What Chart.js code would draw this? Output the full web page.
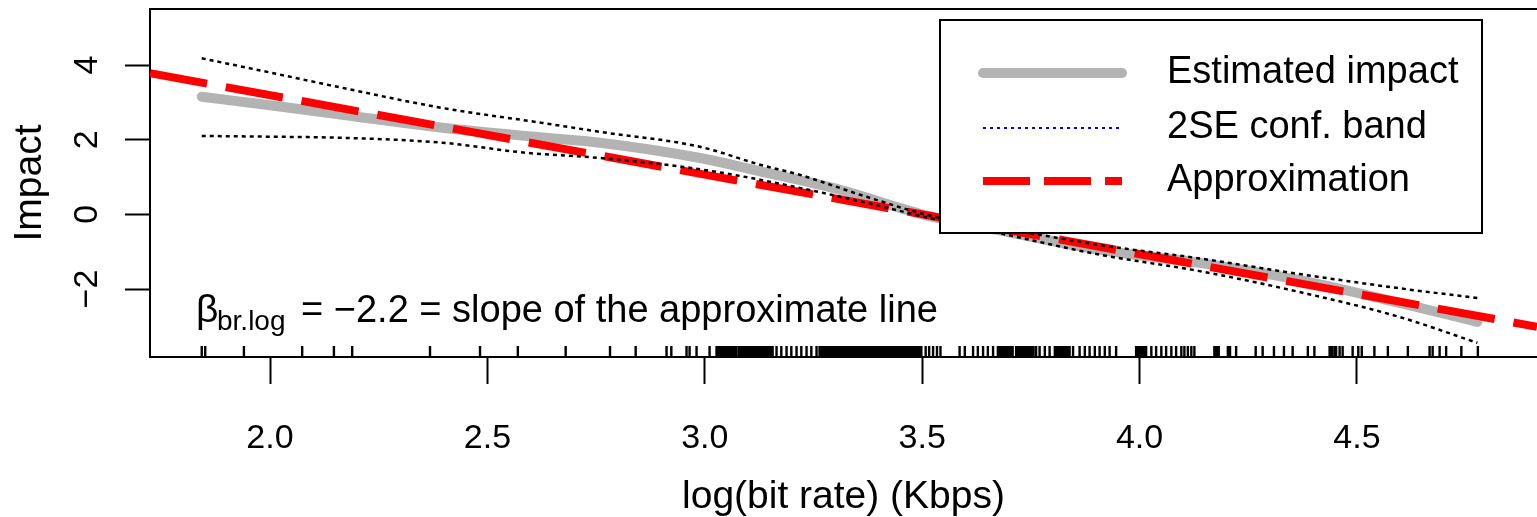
<!DOCTYPE html>
<html>
<head>
<meta charset="utf-8">
<script src="https://cdn.jsdelivr.net/npm/chart.js@4.4.1/dist/chart.umd.min.js"></script>
<style>
  html, body { margin: 0; padding: 0; background: #fff; overflow: hidden; }
  canvas { display: block; }
</style>
</head>
<body>
<canvas id="impactChart" width="1537" height="517"></canvas>
<script>
// smooth estimate of the impact of log(bit rate)
const fitX = [1.843, 2.0, 2.166, 2.396, 2.626, 2.759, 2.989, 3.143, 3.294, 3.524, 3.7, 3.908, 4.138, 4.368, 4.598, 4.777]
const fitY = [3.15, 2.92, 2.67, 2.32, 2.06, 1.92, 1.51, 1.11, 0.71, -0.07, -0.48, -0.95, -1.30, -1.76, -2.37, -2.88]

// 2SE band, upper and lower
const upperX = [1.843, 2.0, 2.166, 2.396, 2.626, 2.759, 2.989, 3.127, 3.218, 3.372, 3.524, 3.7, 3.908, 4.138, 4.368, 4.598, 4.777]
const upperY = [4.18, 3.80, 3.39, 2.85, 2.45, 2.21, 1.81, 1.33, 1.06, 0.47, -0.05, -0.40, -0.82, -1.18, -1.60, -1.98, -2.24]
const lowerX = [1.843, 2.0, 2.166, 2.396, 2.588, 2.759, 2.951, 3.066, 3.218, 3.372, 3.524, 3.7, 3.908, 4.138, 4.368, 4.598, 4.777]
const lowerY = [2.10, 2.08, 2.05, 1.92, 1.65, 1.51, 1.27, 1.06, 0.71, 0.31, -0.12, -0.56, -1.08, -1.52, -2.08, -2.75, -3.44]

// straight approximation, slope about -2.2
const approxX = [1.724, 4.914]
const approxY = [3.78, -3.01]

// observed log(bit rate) values (rug)
const rugX = [
  1.843, 1.851, 1.940, 2.074, 2.147, 2.189, 2.368, 2.483, 2.570, 2.680, 2.782, 2.841, 2.912, 2.923,
  2.958, 2.965, 2.981, 3.011,
  3.027, 3.032, 3.037, 3.042, 3.047, 3.052, 3.057, 3.062, 3.067, 3.072, 3.078, 3.083, 3.088, 3.093,
  3.098, 3.103, 3.108, 3.113, 3.118, 3.123, 3.128, 3.133, 3.138, 3.143, 3.148, 3.153, 3.156,
  3.165, 3.176, 3.188, 3.199, 3.211, 3.222, 3.234, 3.245, 3.257,
  3.264, 3.269, 3.274, 3.279, 3.284, 3.289, 3.294, 3.299, 3.304, 3.309, 3.314, 3.319, 3.324, 3.329,
  3.334, 3.339, 3.344, 3.349, 3.354, 3.359, 3.364, 3.369, 3.374, 3.379, 3.384, 3.389, 3.394, 3.399,
  3.404, 3.409, 3.414, 3.419, 3.424, 3.429, 3.434, 3.439, 3.444, 3.449, 3.454, 3.459, 3.464, 3.469,
  3.474, 3.479, 3.484, 3.489, 3.494, 3.498,
  3.508, 3.516, 3.525, 3.534, 3.542, 3.586, 3.598, 3.617, 3.628, 3.640, 3.651, 3.663,
  3.674, 3.679, 3.684, 3.689, 3.694, 3.699, 3.704, 3.708, 3.716, 3.721, 3.726, 3.731, 3.736, 3.741,
  3.746, 3.751, 3.756, 3.762, 3.770, 3.782, 3.793, 3.805, 3.810, 3.815, 3.820, 3.825, 3.830, 3.835,
  3.839, 3.847, 3.862, 3.874, 3.885, 3.897, 3.908, 3.920, 3.931, 3.946,
  3.992, 3.997, 4.002, 4.007, 4.012, 4.015, 4.027, 4.038, 4.050, 4.061, 4.073, 4.084,
  4.096, 4.103, 4.111, 4.119, 4.126, 4.172, 4.175, 4.178, 4.182, 4.203, 4.208, 4.222, 4.267, 4.283,
  4.309, 4.332, 4.352, 4.387, 4.402, 4.437, 4.442, 4.448, 4.452, 4.460, 4.467, 4.490, 4.503, 4.511,
  4.540, 4.571, 4.617, 4.667, 4.674, 4.690, 4.705, 4.740, 4.778
]

const xTicks = [2.0, 2.5, 3.0, 3.5, 4.0, 4.5]
const yTicks = [-2, 0, 2, 4]
const legendLabels = ['Estimated impact', '2SE conf. band', 'Approximation']

const FONT = '"Liberation Sans", Arial, Helvetica, sans-serif'
const toPoints = (xs, ys) => xs.map((x, i) => ({ x, y: ys[i] }))
const fmtTick = v => (v < 0 ? '\u2212' + Math.abs(v) : String(v))

// top border of the plot box
const frame = {
  id: 'frame',
  afterDraw (chart) {
    const { ctx, chartArea: a } = chart
    ctx.save()
    ctx.strokeStyle = '#000'
    ctx.lineWidth = 2
    ctx.beginPath()
    ctx.moveTo(a.left, a.top)
    ctx.lineTo(a.right, a.top)
    ctx.stroke()
    ctx.restore()
  }
}

// rug along the bottom axis
const rug = {
  id: 'rug',
  afterDatasetsDraw (chart) {
    const { ctx, chartArea: a, scales: { x } } = chart
    ctx.save()
    ctx.strokeStyle = '#000'
    ctx.lineWidth = 2.4
    ctx.beginPath()
    rugX.forEach((v) => {
      const px = x.getPixelForValue(v)
      ctx.moveTo(px, a.bottom)
      ctx.lineTo(px, a.bottom - 11)
    })
    ctx.stroke()
    ctx.restore()
  }
}

// beta note, legend box and rotated y texts
const texts = {
  id: 'texts',
  afterDatasetsDraw (chart) {
    const { ctx, chartArea: a, scales: { y } } = chart
    ctx.save()
    ctx.fillStyle = '#000'
    ctx.textBaseline = 'alphabetic'
    ctx.textAlign = 'left'
    ctx.font = `39px ${FONT}`
    ctx.fillText('\u03b2', 196, 322)
    ctx.font = `28px ${FONT}`
    ctx.fillText('br.log', 217, 330)
    ctx.font = `38px ${FONT}`
    ctx.fillText('= \u22122.2 = slope of the approximate line', 301, 322)

    // legend
    const bx = 940
    const by = 20
    ctx.fillStyle = '#fff'
    ctx.fillRect(bx, by, 542, 213)
    ctx.strokeStyle = '#000'
    ctx.lineWidth = 2
    ctx.strokeRect(bx, by, 542, 213)
    const rows = [73, 128, 181]
    const styles = [
      { color: '#b3b3b3', width: 10, dash: [], cap: 'round' },
      { color: '#0000ff', width: 2, dash: [3, 4], cap: 'butt' },
      { color: '#ff0000', width: 8, dash: [47, 14], cap: 'butt' }
    ]
    rows.forEach((ry, i) => {
      const s = styles[i]
      ctx.strokeStyle = s.color
      ctx.lineWidth = s.width
      ctx.setLineDash(s.dash)
      ctx.lineCap = s.cap
      ctx.beginPath()
      ctx.moveTo(983, ry)
      ctx.lineTo(1122, ry)
      ctx.stroke()
      ctx.setLineDash([])
      ctx.fillStyle = '#000'
      ctx.font = `38px ${FONT}`
      ctx.textBaseline = 'middle'
      ctx.fillText(legendLabels[i], 1167, ry)
    })

    // y tick labels, rotated as in R
    ctx.font = `34px ${FONT}`
    ctx.textAlign = 'center'
    ctx.textBaseline = 'middle'
    yTicks.forEach((v) => {
      ctx.save()
      ctx.translate(88, y.getPixelForValue(v))
      ctx.rotate(-Math.PI / 2)
      ctx.fillText(fmtTick(v), 0, 0)
      ctx.restore()
    })
    ctx.font = `39px ${FONT}`
    ctx.save()
    ctx.translate(30, (a.top + a.bottom) / 2)
    ctx.rotate(-Math.PI / 2)
    ctx.fillText('Impact', 0, 0)
    ctx.restore()
    ctx.fillText('log(bit rate) (Kbps)', (a.left + a.right) / 2, 497)
    ctx.restore()
  }
}

const axisGrid = (len) => ({
  display: true,
  drawOnChartArea: false,
  drawTicks: true,
  tickLength: len,
  tickWidth: 2,
  tickColor: '#000',
  color: '#000'
})

new Chart(document.getElementById('impactChart'), {
  type: 'line',
  data: {
    datasets: [
      {
        label: legendLabels[0],
        data: toPoints(fitX, fitY),
        borderColor: '#b3b3b3',
        borderWidth: 10,
        borderCapStyle: 'round',
        borderJoinStyle: 'round',
        cubicInterpolationMode: 'monotone',
        pointRadius: 0,
        clip: 0,
        order: 3
      },
      {
        label: legendLabels[2],
        data: toPoints(approxX, approxY),
        borderColor: '#ff0000',
        borderWidth: 8,
        borderDash: [58, 19],
        pointRadius: 0,
        clip: 0,
        order: 2
      },
      {
        label: 'upper band',
        data: toPoints(upperX, upperY),
        borderColor: '#000',
        borderWidth: 2.5,
        borderDash: [4, 4],
        cubicInterpolationMode: 'monotone',
        pointRadius: 0,
        clip: 0,
        order: 1
      },
      {
        label: 'lower band',
        data: toPoints(lowerX, lowerY),
        borderColor: '#000',
        borderWidth: 2.5,
        borderDash: [4, 4],
        cubicInterpolationMode: 'monotone',
        pointRadius: 0,
        clip: 0,
        order: 1
      }
    ]
  },
  options: {
    responsive: false,
    animation: false,
    devicePixelRatio: 1,
    layout: { padding: { top: 9, left: 0, right: 0, bottom: 0 } },
    plugins: {
      legend: { display: false },
      tooltip: { enabled: false }
    },
    scales: {
      x: {
        type: 'linear',
        min: 1.724,
        max: 4.914,
        afterBuildTicks: (s) => { s.ticks = xTicks.map(v => ({ value: v })) },
        afterFit: (s) => { s.height = 160 },
        grid: axisGrid(27),
        border: { display: true, color: '#000', width: 2 },
        ticks: {
          color: '#000',
          font: { family: FONT, size: 34 },
          padding: 34,
          maxRotation: 0,
          autoSkip: false,
          callback: v => Number(v).toFixed(1)
        }
      },
      y: {
        type: 'linear',
        min: -3.82,
        max: 5.5,
        afterBuildTicks: (s) => { s.ticks = yTicks.map(v => ({ value: v })) },
        afterFit: (s) => { s.width = 150 },
        grid: axisGrid(25),
        border: { display: true, color: '#000', width: 2 },
        ticks: { display: false }
      }
    }
  },
  plugins: [frame, rug, texts]
})
</script>
</body>
</html>
